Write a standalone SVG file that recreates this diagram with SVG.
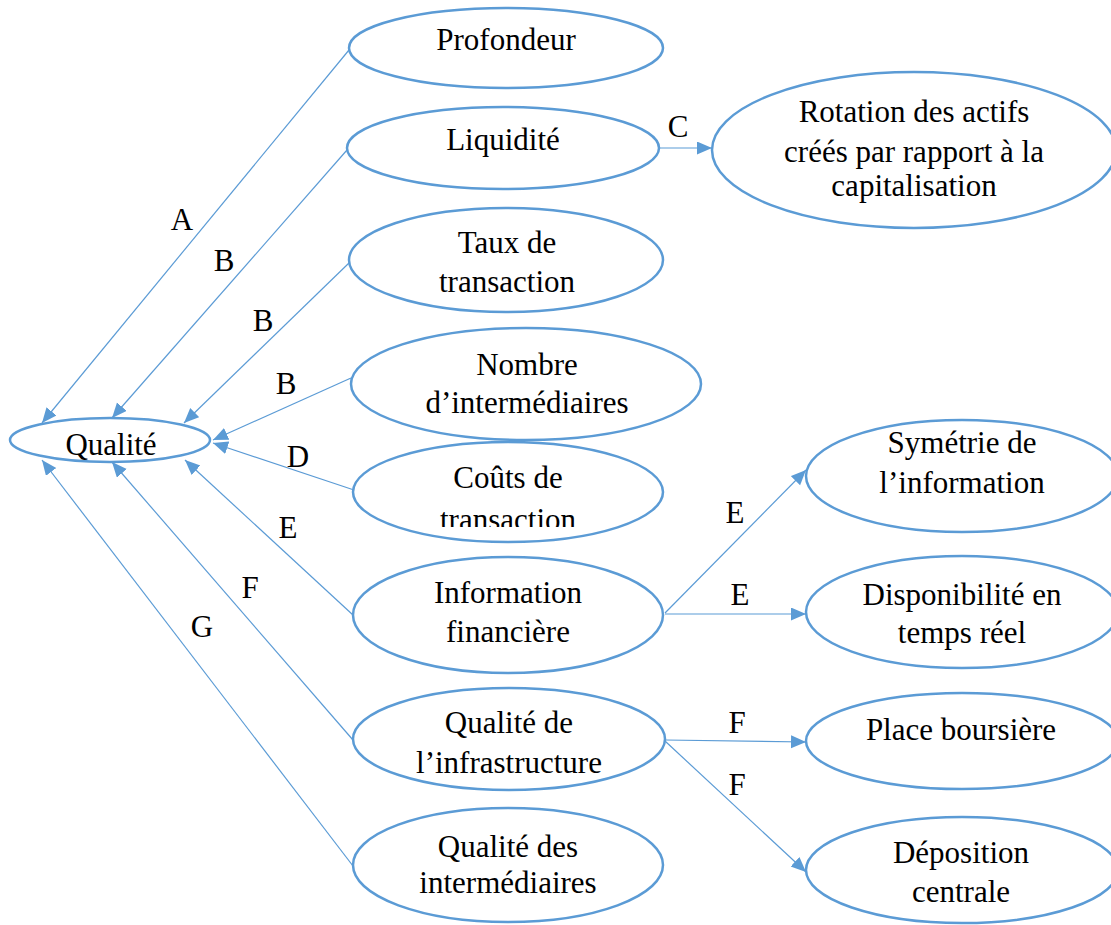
<svg xmlns="http://www.w3.org/2000/svg" width="1111" height="925" viewBox="0 0 1111 925" font-family="Liberation Serif">
<defs>
<marker id="ah" markerWidth="16" markerHeight="14" refX="15" refY="6.5" orient="auto" markerUnits="userSpaceOnUse">
<path d="M0,0 L15,6.5 L0,13 z" fill="#5B9BD5"/>
</marker>
<clipPath id="cl"><rect x="340" y="440" width="340" height="87"/></clipPath>
</defs>
<rect width="1111" height="925" fill="#fff"/>
<g id="connectors" stroke="#5B9BD5" stroke-width="1.2" fill="none" marker-end="url(#ah)">
<line x1="349" y1="50" x2="42" y2="423"/>
<line x1="347" y1="150" x2="112" y2="418"/>
<line x1="350" y1="262" x2="184" y2="423"/>
<line x1="351" y1="378" x2="213" y2="440"/>
<line x1="354" y1="490" x2="213" y2="443"/>
<line x1="353" y1="615" x2="185" y2="460"/>
<line x1="353" y1="740" x2="112" y2="462"/>
<line x1="353" y1="866" x2="42" y2="460"/>
<line x1="659" y1="148" x2="712" y2="148"/>
<line x1="665" y1="613" x2="806" y2="470"/>
<line x1="665" y1="614" x2="806" y2="614"/>
<line x1="665" y1="740" x2="806" y2="742"/>
<line x1="665" y1="741" x2="806" y2="872"/>
</g>
<g id="labels" fill="#000" stroke="none" text-anchor="middle" font-size="31">
<text style="font-family:'Liberation Serif'" x="182" y="230">A</text>
<text style="font-family:'Liberation Serif'" x="224" y="271">B</text>
<text style="font-family:'Liberation Serif'" x="263" y="331">B</text>
<text style="font-family:'Liberation Serif'" x="286" y="394">B</text>
<text style="font-family:'Liberation Serif'" x="298" y="467">D</text>
<text style="font-family:'Liberation Serif'" x="288" y="538">E</text>
<text style="font-family:'Liberation Serif'" x="250" y="598">F</text>
<text style="font-family:'Liberation Serif'" x="202" y="637">G</text>
<text style="font-family:'Liberation Serif'" x="678" y="137">C</text>
<text style="font-family:'Liberation Serif'" x="735" y="523">E</text>
<text style="font-family:'Liberation Serif'" x="740" y="605">E</text>
<text style="font-family:'Liberation Serif'" x="737" y="733">F</text>
<text style="font-family:'Liberation Serif'" x="737" y="795">F</text>
</g>
<g id="nodes" text-anchor="middle" font-size="31">
<g id="qualite"><ellipse cx="110" cy="440" rx="100" ry="22" fill="#fff" stroke="#5B9BD5" stroke-width="2.5"/><text style="font-family:'Liberation Serif'" x="111" y="455">Qualité</text></g>
<g id="profondeur"><ellipse cx="506" cy="48" rx="157" ry="40" fill="#fff" stroke="#5B9BD5" stroke-width="2.5"/><text style="font-family:'Liberation Serif'" x="506" y="50">Profondeur</text></g>
<g id="liquidite"><ellipse cx="503" cy="148" rx="156" ry="41" fill="#fff" stroke="#5B9BD5" stroke-width="2.5"/><text style="font-family:'Liberation Serif'" x="503" y="150">Liquidité</text></g>
<g id="rotation"><ellipse cx="914" cy="150" rx="202" ry="78" fill="#fff" stroke="#5B9BD5" stroke-width="2.5"/><text style="font-family:'Liberation Serif'" x="914" y="122">Rotation des actifs</text><text style="font-family:'Liberation Serif'" x="914" y="162">créés par rapport à la</text><text style="font-family:'Liberation Serif'" x="914" y="196">capitalisation</text></g>
<g id="taux"><ellipse cx="506" cy="260" rx="157" ry="52" fill="#fff" stroke="#5B9BD5" stroke-width="2.5"/><text style="font-family:'Liberation Serif'" x="507" y="253">Taux de</text><text style="font-family:'Liberation Serif'" x="507" y="292">transaction</text></g>
<g id="nombre"><ellipse cx="526" cy="384" rx="175" ry="56" fill="#fff" stroke="#5B9BD5" stroke-width="2.5"/><text style="font-family:'Liberation Serif'" x="527" y="375">Nombre</text><text style="font-family:'Liberation Serif'" x="527" y="413">d’intermédiaires</text></g>
<g id="couts"><ellipse cx="508" cy="492" rx="155" ry="50" fill="#fff" stroke="#5B9BD5" stroke-width="2.5"/><text style="font-family:'Liberation Serif'" x="508" y="488">Coûts de</text><text style="font-family:'Liberation Serif'" x="508" y="530" clip-path="url(#cl)">transaction</text></g>
<g id="information"><ellipse cx="508" cy="615" rx="155" ry="58" fill="#fff" stroke="#5B9BD5" stroke-width="2.5"/><text style="font-family:'Liberation Serif'" x="508" y="603">Information</text><text style="font-family:'Liberation Serif'" x="508" y="642">financière</text></g>
<g id="infrastructure"><ellipse cx="509" cy="739" rx="156" ry="51" fill="#fff" stroke="#5B9BD5" stroke-width="2.5"/><text style="font-family:'Liberation Serif'" x="509" y="733">Qualité de</text><text style="font-family:'Liberation Serif'" x="509" y="773">l’infrastructure</text></g>
<g id="intermediaires"><ellipse cx="508" cy="865" rx="155" ry="57" fill="#fff" stroke="#5B9BD5" stroke-width="2.5"/><text style="font-family:'Liberation Serif'" x="508" y="857">Qualité des</text><text style="font-family:'Liberation Serif'" x="508" y="893">intermédiaires</text></g>
<g id="symetrie"><ellipse cx="962" cy="476" rx="156" ry="56" fill="#fff" stroke="#5B9BD5" stroke-width="2.5"/><text style="font-family:'Liberation Serif'" x="962" y="453">Symétrie de</text><text style="font-family:'Liberation Serif'" x="962" y="493">l’information</text></g>
<g id="disponibilite"><ellipse cx="962" cy="612" rx="156" ry="56" fill="#fff" stroke="#5B9BD5" stroke-width="2.5"/><text style="font-family:'Liberation Serif'" x="962" y="605">Disponibilité en</text><text style="font-family:'Liberation Serif'" x="962" y="643">temps réel</text></g>
<g id="place"><ellipse cx="962" cy="741" rx="156" ry="48" fill="#fff" stroke="#5B9BD5" stroke-width="2.5"/><text style="font-family:'Liberation Serif'" x="961" y="740">Place boursière</text></g>
<g id="deposition"><ellipse cx="962" cy="870" rx="156" ry="53" fill="#fff" stroke="#5B9BD5" stroke-width="2.5"/><text style="font-family:'Liberation Serif'" x="961" y="863">Déposition</text><text style="font-family:'Liberation Serif'" x="961" y="902">centrale</text></g>
</g>
</svg>
